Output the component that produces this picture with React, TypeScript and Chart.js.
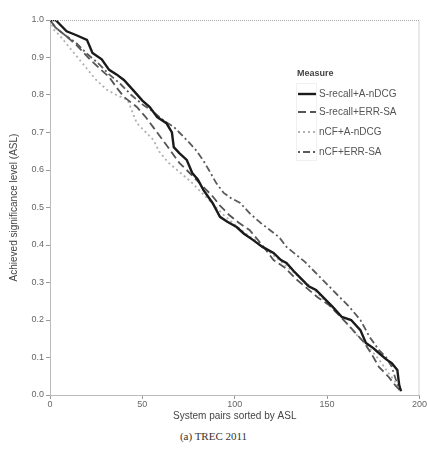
import React, { useEffect, useRef } from "react";
import { Chart, registerables } from "chart.js";

Chart.register(...registerables);

// S-recall+A-nDCG (solid black)
const srAX = [0, 3, 5, 9, 14, 20, 23, 28, 32, 36, 40, 45, 50, 54, 58, 63, 66, 67, 70, 74, 77, 80, 83, 88, 92, 96, 101, 105, 110, 115, 121, 125, 128, 132, 135, 140, 144, 149, 153, 158, 163, 168, 171, 175, 178, 182, 185, 188, 189, 190];
const srAY = [1.0, 1.0, 0.99, 0.97, 0.96, 0.947, 0.912, 0.895, 0.867, 0.855, 0.84, 0.813, 0.785, 0.768, 0.741, 0.725, 0.7, 0.661, 0.645, 0.627, 0.592, 0.575, 0.547, 0.512, 0.475, 0.462, 0.448, 0.43, 0.413, 0.395, 0.379, 0.36, 0.352, 0.33, 0.315, 0.29, 0.28, 0.255, 0.235, 0.208, 0.2, 0.173, 0.139, 0.125, 0.112, 0.095, 0.085, 0.067, 0.027, 0.01];

// S-recall+ERR-SA (dashed)
const srEX = [0, 3, 8, 14, 22, 27, 32, 36, 40, 47, 52, 58, 64, 70, 76, 82, 88, 92, 97, 102, 108, 114, 121, 127, 133, 139, 145, 151, 157, 164, 170, 174, 178, 183, 187, 189];
const srEY = [1.0, 0.98, 0.96, 0.935, 0.893, 0.87, 0.848, 0.82, 0.795, 0.768, 0.74, 0.7, 0.66, 0.619, 0.59, 0.56, 0.53, 0.505, 0.48, 0.46, 0.44, 0.405, 0.36, 0.34, 0.31, 0.285, 0.26, 0.24, 0.21, 0.173, 0.14, 0.11, 0.075, 0.05, 0.025, 0.015];

// nCF+A-nDCG (dotted light)
const nAX = [0, 2, 5, 10, 15, 20, 25, 31, 36, 42, 47, 52, 56, 59, 64, 70, 76, 82, 88, 94, 100, 106, 112, 118, 124, 130, 136, 142, 148, 154, 160, 166, 172, 178, 183, 187, 190];
const nAY = [1.0, 0.975, 0.96, 0.93, 0.9, 0.87, 0.84, 0.813, 0.8, 0.787, 0.725, 0.7, 0.68, 0.65, 0.62, 0.595, 0.57, 0.54, 0.51, 0.48, 0.455, 0.43, 0.41, 0.385, 0.36, 0.335, 0.31, 0.285, 0.255, 0.23, 0.195, 0.16, 0.13, 0.095, 0.06, 0.035, 0.02];

// nCF+ERR-SA (dash-dot)
const nEX = [0, 3, 8, 14, 20, 26, 32, 38, 44, 50, 56, 62, 67, 70, 75, 79, 83, 86, 90, 94, 98, 103, 108, 114, 119, 124, 128, 133, 138, 143, 148, 155, 162, 168, 173, 178, 182, 185, 189];
const nEY = [1.0, 0.98, 0.96, 0.94, 0.91, 0.885, 0.855, 0.83, 0.8, 0.775, 0.755, 0.73, 0.715, 0.7, 0.675, 0.653, 0.625, 0.6, 0.565, 0.539, 0.525, 0.512, 0.485, 0.459, 0.44, 0.421, 0.395, 0.375, 0.355, 0.33, 0.305, 0.27, 0.235, 0.2, 0.155, 0.12, 0.1, 0.075, 0.013];

const seriesNames = ["S-recall+A-nDCG", "S-recall+ERR-SA", "nCF+A-nDCG", "nCF+ERR-SA"];
const xTicks = [0, 50, 100, 150, 200];
const yTicks = [0, 0.1, 0.2, 0.3, 0.4, 0.5, 0.6, 0.7, 0.8, 0.9, 1.0];

const toPts = (xs: number[], ys: number[]) => xs.map((x, i) => ({ x, y: ys[i] }));

const styles = [
  { color: "#1a1a1a", width: 2.4, dash: [] as number[] },
  { color: "#555555", width: 1.8, dash: [8, 4] },
  { color: "#b0b0b0", width: 1.8, dash: [2, 3] },
  { color: "#5a5a5a", width: 1.8, dash: [2, 3, 7, 3] },
];

const legendPlugin = {
  id: "customLegend",
  afterDraw(chart: any) {
    const ctx = chart.ctx;
    ctx.save();
    ctx.fillStyle = "#444";
    ctx.font = "bold 9px 'Liberation Sans', Arial, sans-serif";
    ctx.textBaseline = "middle";
    ctx.textAlign = "left";
    ctx.fillText("Measure", 297, 74);
    ctx.strokeStyle = "#ccc";
    ctx.lineWidth = 0.6;
    ctx.setLineDash([1, 1]);
    ctx.strokeRect(296.5, 83.5, 20, 77);
    const ys = [94, 112, 132, 152];
    ctx.font = "10px 'Liberation Sans', Arial, sans-serif";
    seriesNames.forEach((n, i) => {
      const s = styles[i];
      ctx.strokeStyle = s.color;
      ctx.lineWidth = s.width;
      ctx.setLineDash(s.dash);
      ctx.beginPath();
      ctx.moveTo(298, ys[i]);
      ctx.lineTo(316, ys[i]);
      ctx.stroke();
      ctx.setLineDash([]);
      ctx.fillStyle = "#555";
      ctx.fillText(n, 319, ys[i]);
    });
    // dotted top/right border
    const a = chart.chartArea;
    ctx.strokeStyle = "#aaa";
    ctx.lineWidth = 1;
    ctx.setLineDash([1, 1]);
    ctx.beginPath();
    ctx.moveTo(a.left, a.top + 0.5);
    ctx.lineTo(a.right - 0.5, a.top + 0.5);
    ctx.lineTo(a.right - 0.5, a.bottom);
    ctx.stroke();
    ctx.restore();
  },
};

export default function App() {
  const ref = useRef<HTMLCanvasElement | null>(null);
  useEffect(() => {
    if (!ref.current) return;
    const tickFont = { family: "'Liberation Sans', Arial, sans-serif", size: 9 };
    const chart = new Chart(ref.current, {
      type: "line",
      data: {
        datasets: [
          [srAX, srAY],
          [srEX, srEY],
          [nAX, nAY],
          [nEX, nEY],
        ].map(([xs, ys], i) => ({
          label: seriesNames[i],
          data: toPts(xs, ys),
          borderColor: styles[i].color,
          borderWidth: styles[i].width,
          borderDash: styles[i].dash,
          pointRadius: 0,
          tension: 0,
          fill: false,
        })),
      },
      options: {
        animation: false,
        responsive: false,
        maintainAspectRatio: false,
        layout: { padding: { top: 20, right: 7, left: 0, bottom: 0 } },
        plugins: { legend: { display: false }, tooltip: { enabled: false } },
        scales: {
          x: {
            type: "linear",
            min: 0,
            max: 200,
            afterBuildTicks: (s: any) => {
              s.ticks = xTicks.map((v) => ({ value: v }));
            },
            afterFit: (s: any) => {
              s.height = 30;
            },
            ticks: { color: "#666", font: tickFont, padding: 0, maxRotation: 0 },
            grid: { drawOnChartArea: false, drawTicks: true, tickLength: 4, color: "#999" },
            border: { color: "#bbb", width: 1 },
            title: {
              display: true,
              text: "System pairs sorted by ASL",
              color: "#444",
              font: { family: "'Liberation Sans', Arial, sans-serif", size: 10 },
              padding: { top: 0, bottom: 3 },
            },
          },
          y: {
            type: "linear",
            min: 0,
            max: 1,
            afterBuildTicks: (s: any) => {
              s.ticks = yTicks.map((v) => ({ value: v }));
            },
            afterFit: (s: any) => {
              s.width = 50;
            },
            ticks: {
              color: "#666",
              font: tickFont,
              padding: 2,
              callback: (v: any) => Number(v).toFixed(1),
            },
            grid: { drawOnChartArea: false, drawTicks: true, tickLength: 4, color: "#999" },
            border: { color: "#bbb", width: 1 },
            title: {
              display: true,
              text: "Achieved significance level (ASL)",
              color: "#444",
              font: { family: "'Liberation Sans', Arial, sans-serif", size: 10 },
              padding: { top: 8, bottom: 0 },
            },
          },
        },
      },
      plugins: [legendPlugin],
    } as any);
    return () => chart.destroy();
  }, []);
  return (
    <div style={{ position: "absolute", left: 0, top: 0, width: 427, height: 454, background: "#fff" }}>
      <canvas ref={ref} width={427} height={425} style={{ display: "block", width: 427, height: 425 }} />
      <div
        style={{
          position: "absolute",
          top: 430,
          left: 0,
          width: 427,
          textAlign: "center",
          fontFamily: "'Liberation Serif', 'Times New Roman', serif",
          fontSize: 11,
          color: "#333",
        }}
      >
        (a) TREC 2011
      </div>
    </div>
  );
}
